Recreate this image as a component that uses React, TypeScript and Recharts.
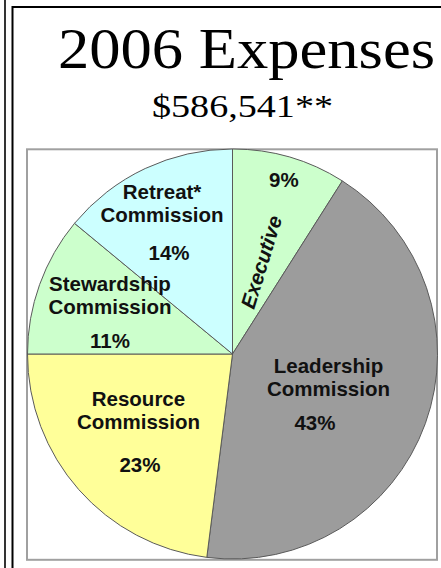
import { PieChart, Pie, Cell } from 'recharts';

// slices, clockwise from 12 o'clock
const categories = ['Executive', 'Leadership Commission', 'Resource Commission', 'Stewardship Commission', 'Retreat* Commission'];
const shares = [9, 43, 23, 11, 14];
const labelLines = [['Executive'], ['Leadership', 'Commission'], ['Resource', 'Commission'], ['Stewardship', 'Commission'], ['Retreat*', 'Commission']];
const sliceColors = ['#ccffcc', '#9c9c9c', '#ffff99', '#ccffcc', '#ccffff'];

const title = '2006 Expenses';
const subtitle = '$586,541**';

// where each label block sits: fraction of radius, angle tweak (deg), and the % line offset
const labelLayout = [
    { rf: 0.47, da: 1, pctRf: 0.853, pctDa: 0.9 },
    { rf: 0.511, da: 3.8, pctDx: -13.5, pctDy: 34 },
    { rf: 0.587, da: 2.8, pctDx: 1.5, pctDy: 43 },
    { rf: 0.629, da: -1.7, pctDx: 0, pctDy: 34 },
    { rf: 0.732, da: -2.8, pctDx: 7, pctDy: 38.5 },
];

const data = categories.map((name, i) => ({ name, value: shares[i] }));

const labelFont = "'Liberation Sans', Arial, sans-serif";

const renderLabel = (props: any) => {
    const { cx, cy, midAngle, outerRadius, index, value } = props;
    const lay: any = labelLayout[index];
    const pt = (rf: number, da: number) => {
        const t = ((90 - midAngle + da) * Math.PI) / 180;
        return [cx + outerRadius * rf * Math.sin(t), cy - outerRadius * rf * Math.cos(t)];
    };
    const common = {
        fontFamily: labelFont,
        fontSize: 20.5,
        fontWeight: 700,
        fill: '#111',
        textAnchor: 'middle' as const,
    };

    if (index === 0) {
        const [nx, ny] = pt(lay.rf, lay.da);
        const [px, py] = pt(lay.pctRf, lay.pctDa);
        const rot = -midAngle + lay.da;
        return (
            <g key={`lbl-${index}`}>
                <text {...common} x={nx} y={ny} dominantBaseline="central" fontStyle="italic" transform={`rotate(${rot} ${nx} ${ny})`}>
                    {labelLines[index][0]}
                </text>
                <text {...common} x={px} y={py}>{value}%</text>
            </g>
        );
    }

    const [ax, ay] = pt(lay.rf, lay.da);
    return (
        <g key={`lbl-${index}`}>
            <text {...common} x={ax} y={ay - 23}>{labelLines[index][0]}</text>
            <text {...common} x={ax} y={ay}>{labelLines[index][1]}</text>
            <text {...common} x={ax + lay.pctDx} y={ay + lay.pctDy}>{value}%</text>
        </g>
    );
};

const App = () => {
    return (
        <div style={{ position: 'absolute', left: 0, top: 0, width: 441, height: 568, background: '#fff', overflow: 'hidden' }}>
            <svg width={441} height={568} style={{ position: 'absolute', left: 0, top: 0 }}>
                <line x1={5} y1={0} x2={5} y2={568} stroke="#000" strokeWidth={1.6} />
                <rect x={12.5} y={7} width={460} height={600} fill="none" stroke="#000" strokeWidth={2} />
                <text
                    x={246.5}
                    y={68}
                    textAnchor="middle"
                    fontFamily="'Liberation Serif', 'Times New Roman', serif"
                    fontSize={56}
                    textLength={377}
                    lengthAdjust="spacingAndGlyphs"
                    fill="#000"
                >
                    {title}
                </text>
                <text
                    x={242.5}
                    y={117}
                    textAnchor="middle"
                    fontFamily="'Liberation Serif', 'Times New Roman', serif"
                    fontSize={31}
                    textLength={181}
                    lengthAdjust="spacingAndGlyphs"
                    fill="#000"
                >
                    {subtitle}
                </text>
                <rect x={27} y={149.3} width={410} height={410.5} fill="#fff" stroke="#a0a0a0" strokeWidth={2} />
            </svg>
            <div style={{ position: 'absolute', left: 0, top: 0 }}>
                <PieChart width={441} height={568} margin={{ top: 0, right: 0, bottom: 0, left: 0 }}>
                    <Pie
                        data={data}
                        dataKey="value"
                        nameKey="name"
                        cx={232.5}
                        cy={354}
                        outerRadius={205}
                        startAngle={90}
                        endAngle={-270}
                        stroke="#5a5a5a"
                        strokeWidth={1}
                        label={renderLabel}
                        labelLine={false}
                        isAnimationActive={false}
                    >
                        {data.map((d, i) => (
                            <Cell key={d.name} fill={sliceColors[i]} />
                        ))}
                    </Pie>
                </PieChart>
            </div>
        </div>
    );
};

export default App;
